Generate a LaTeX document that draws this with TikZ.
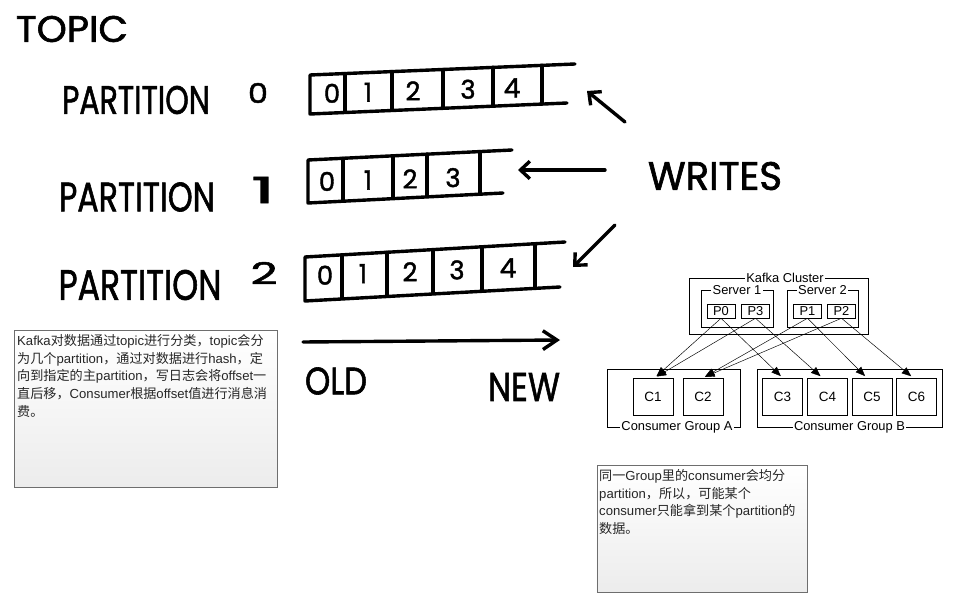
\documentclass[tikz,border=0pt]{standalone}
\usepackage{fontspec}
\usepackage{graphicx}
\setmainfont{Liberation Sans}
\newfontfamily\cjk{Noto Sans CJK SC}
\newfontfamily\hand[FakeBold=1.6]{Poppins}
\usetikzlibrary{arrows.meta}
\usetikzlibrary{positioning}

\newdimen\pxu \pxu=0.03cm
\newcommand{\sketchtext}[3]{\resizebox{#1\pxu}{#2\pxu}{\hand #3}}
\newcommand{\sketchdigit}[1]{\resizebox{!}{19\pxu}{\hand #1}}
\newcommand{\zh}[1]{{\cjk #1}}
\definecolor{noteborder}{RGB}{110,110,110}
\definecolor{notebottom}{RGB}{236,236,236}

\begin{document}
\begin{tikzpicture}[x=0.03cm, y=-0.03cm,
    sketch/.style={line width=2.9pt, line cap=round, line join=round},
    writearrow/.style={sketch, -{Straight Barb[length=8pt, width=15pt]}},
    timearrow/.style={sketch, -{Straight Barb[length=12pt, width=16pt]}},
    label/.style={inner sep=0},
    pbox/.style={draw, minimum width=23.9pt, minimum height=12pt, inner sep=0, font=\fontsize{11}{12}\selectfont},
    cbox/.style={draw, minimum width=34.1pt, minimum height=31.6pt, inner sep=0, font=\fontsize{11.5}{12}\selectfont},
    groupbox/.style={draw, minimum height=49.5pt, inner sep=0},
    boxlabel/.style={fill=white, inner sep=1pt, font=\fontsize{11}{12}\selectfont},
    flow/.style={-{Triangle[length=8pt, width=6.5pt]}, shorten >=2pt},
    notebox/.style={draw=noteborder, line width=0.8pt, top color=white, bottom color=notebottom, inner sep=0},
    notetext/.style={inner sep=0, align=left, text=black!85, font=\fontsize{11.2}{15.2}\selectfont}]
	\useasboundingbox (0,0) rectangle (954,596);

	% Hand written labels
	\node[label] (topic) at (72,29) {\sketchtext{112}{26}{TOPIC}};
	\node[label] (part0) at (136,100) {\sketchtext{148}{28}{PARTITION}};
	\node[label] (part0num) at (258,93) {\sketchtext{20}{20}{0}};
	\node[label] (part1) at (137,197) {\sketchtext{156}{29}{PARTITION}};
	\node[label] (part1num) at (263,190) {\sketchtext{24}{26}{1}};
	\node[label] (part2) at (140,285) {\sketchtext{163}{30}{PARTITION}};
	\node[label] (part2num) at (264,273) {\sketchtext{27}{22}{2}};
	\node[label] (writes) at (715,176) {\sketchtext{134}{28}{WRITES}};
	\node[label] (old) at (336,381) {\sketchtext{62}{27}{OLD}};
	\node[label] (new) at (524,387) {\sketchtext{72}{28}{NEW}};

	% Partition 0
	\draw[sketch] (575,64) -- (310,75) -- (310,114) -- (567,103);
	\foreach \x in {345,392,443,493,542}
		\draw[sketch] (\x,{75-11*(\x-310)/265}) -- (\x,{113-10*(\x-310)/257});
	\foreach \x/\d in {332/0,368/1,413/2,468/3,512/4}
		\node[label] (p0c\d) at (\x,{94-(\x-310)*0.03}) {\sketchdigit{\d}};

	% Partition 1
	\draw[sketch] (512,150) -- (308,160) -- (308,203) -- (503,193);
	\foreach \x in {343,393,427,480}
		\draw[sketch] (\x,{160-10*(\x-308)/204}) -- (\x,{202-9*(\x-308)/195});
	\foreach \x/\d in {327/0,368/1,410/2,453/3}
		\node[label] (p1c\d) at (\x,{182-(\x-308)*0.03}) {\sketchdigit{\d}};

	% Partition 2
	\draw[sketch] (565,242) -- (305,257) -- (305,301) -- (560,287);
	\foreach \x in {342,387,433,482,535}
		\draw[sketch] (\x,{257-15*(\x-305)/260}) -- (\x,{300-13*(\x-305)/255});
	\foreach \x/\d in {325/0,363/1,410/2,457/3,508/4}
		\node[label] (p2c\d) at (\x,{276-(\x-305)*0.04}) {\sketchdigit{\d}};

	% Writes and time arrows
	\coordinate (w0from) at (625,122);
	\coordinate (w0to) at (587,91);
	\coordinate (w1from) at (605,170);
	\coordinate (w1to) at (518,170);
	\coordinate (w2from) at (615,225);
	\coordinate (w2to) at (573,267);
	\coordinate (oldend) at (303,342);
	\coordinate (newend) at (560,340);
	\draw[writearrow] (w0from) -- (w0to);
	\draw[writearrow] (w1from) -- (w1to);
	\draw[writearrow] (w2from) -- (w2to);
	\draw[timearrow] (oldend) -- (newend);

	% Kafka cluster
	\node[draw, minimum width=152.8pt, minimum height=47.8pt, inner sep=0] (cluster) at (778.5,306) {};
	\node[draw, minimum width=61.5pt, minimum height=31.6pt, inner sep=0] (server1) at (737,308.5) {};
	\node[draw, minimum width=60.6pt, minimum height=31.6pt, inner sep=0] (server2) at (822.5,308.5) {};
	\node[boxlabel] (clusterlabel) at (785,278) {Kafka Cluster};
	\node[boxlabel] (server1label) at (server1.north) {Server 1};
	\node[boxlabel] (server2label) at (server2.north) {Server 2};
	\node[pbox] (P0) at (721,311) {P0};
	\node[pbox] (P3) at (755.5,311) {P3};
	\node[pbox] (P1) at (807.5,311) {P1};
	\node[pbox] (P2) at (841.5,311) {P2};

	% Consumer groups
	\node[groupbox, minimum width=113.5pt] (groupA) at (673.5,398) {};
	\node[groupbox, minimum width=157.9pt] (groupB) at (849.5,398) {};
	\node[boxlabel] (groupAlabel) at (677,427) {Consumer Group A};
	\node[boxlabel] (groupBlabel) at (groupB.south) {Consumer Group B};
	\node[cbox] (C1) at (653,396.5) {C1};
	\node[cbox] (C2) at (703,396.5) {C2};
	\node[cbox] (C3) at (782.5,396.5) {C3};
	\node[cbox] (C4) at (827.5,396.5) {C4};
	\node[cbox] (C5) at (872,396.5) {C5};
	\node[cbox] (C6) at (916.5,396.5) {C6};

	\draw[flow] (P0.south) -- ([xshift=1.5pt]C1.north);
	\draw[flow] (P0.south) -- (C3.north);
	\draw[flow] (P3.south) -- ([xshift=1.5pt]C1.north);
	\draw[flow] (P3.south) -- ([xshift=-4.5pt]C4.north);
	\draw[flow] (P1.south) -- (C2.north);
	\draw[flow] (P1.south) -- ([xshift=-4.5pt]C5.north);
	\draw[flow] (P2.south) -- (C2.north);
	\draw[flow] (P2.south) -- ([xshift=-3pt]C6.north);

	% Notes
	\node[notebox, anchor=north west, minimum width=224.5pt, minimum height=134pt] (note1) at (14,330) {};
	\node[notetext, anchor=north west] (note1text) at (17,334) {%
		Kafka\zh{对数据通过}topic\zh{进行分类，}topic\zh{会分}\\
		\zh{为几个}partition\zh{，通过对数据进行}hash\zh{，定}\\
		\zh{向到指定的主}partition\zh{，写日志会将}offset\zh{一}\\
		\zh{直后移，}Consumer\zh{根据}offset\zh{值进行消息消}\\
		\zh{费。}};
	\node[notebox, anchor=north west, minimum width=179.3pt, minimum height=108.4pt] (note2) at (596.5,465) {};
	\node[notetext, anchor=north west] (note2text) at (599,469) {%
		\zh{同一}Group\zh{里的}consumer\zh{会均分}\\
		partition\zh{，所以，可能某个}\\
		consumer\zh{只能拿到某个}partition\zh{的}\\
		\zh{数据。}};

\end{tikzpicture}
\end{document}
